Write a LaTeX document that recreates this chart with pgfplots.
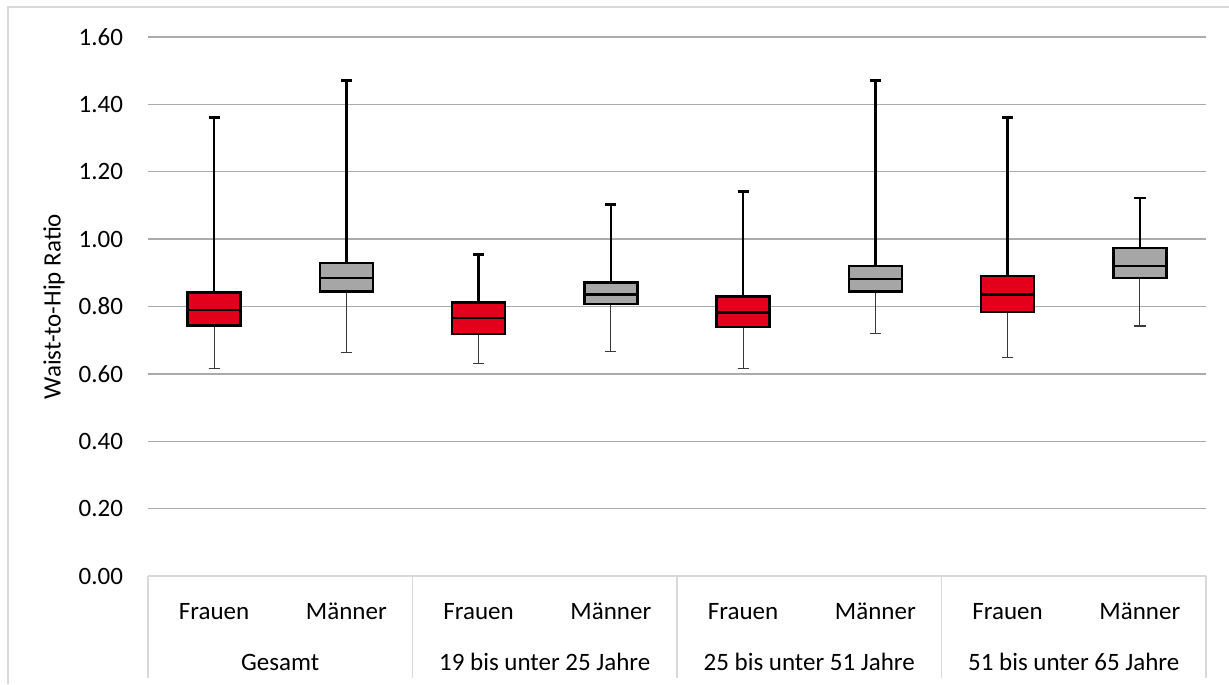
\documentclass[border=0pt]{standalone}
\usepackage{fontspec}
\setmainfont{Carlito}
\usepackage{pgfplots}
\pgfplotsset{compat=1.18}
\usepgfplotslibrary{statistics}

\definecolor{boxred}{HTML}{E2001A}
\definecolor{boxgray}{HTML}{A6A6A6}
\definecolor{gridcol}{HTML}{ABABAB}
\definecolor{sepcol}{HTML}{D9D9D9}
\definecolor{lowwhisk}{HTML}{3A3A3A}

\pgfplotsset{
  boxplot/draw direction=y,
  wbox/.style={
    boxplot prepared={#1},
    draw=black, line width=1.2pt,
    boxplot/box extend=0.4,
    boxplot/whisker extend=0.085,
    % thin lower whisker, thick upper whisker
    boxplot/draw/lower whisker/.code={%
      \draw[lowwhisk, line width=0.6pt]
        (boxplot box cs:\pgfplotsboxplotvalue{lower whisker},0.5)
        -- (boxplot box cs:\pgfplotsboxplotvalue{lower quartile},0.5);
      \draw[lowwhisk, line width=0.6pt]
        (boxplot whisker cs:\pgfplotsboxplotvalue{lower whisker},0)
        -- (boxplot whisker cs:\pgfplotsboxplotvalue{lower whisker},1);
    },
  },
}

\begin{document}
\begin{tikzpicture}[font=\fontsize{12.5pt}{15pt}\selectfont]
\useasboundingbox (0,0) rectangle (614.5pt,342pt);
% chart frame
\draw[sepcol, line width=0.75pt] (4pt,0) -- (4pt,338.5pt) -- (614.5pt,338.5pt);

\begin{axis}[
  at={(74pt,54pt)}, anchor=south west,
  scale only axis, width=529pt, height=269.5pt,
  xmin=-0.5, xmax=7.5, ymin=0, ymax=1.6,
  boxplot/draw direction=y,
  axis lines*=left,
  y axis line style={draw=none},
  x axis line style={sepcol, line width=0.7pt},
  ytick={0,0.2,0.4,0.6,0.8,1.0,1.2,1.4,1.6},
  ymajorgrids, grid style={gridcol, line width=0.7pt},
  major tick length=0pt,
  /pgf/number format/assume math mode=true,
  yticklabel style={/pgf/number format/.cd, fixed, fixed zerofill, precision=2, /tikz/.cd, xshift=-9pt},
  xtick={0,1,2,3,4,5,6,7},
  xticklabels={Frauen,Männer,Frauen,Männer,Frauen,Männer,Frauen,Männer},
  xticklabel style={anchor=base, yshift=-21.5pt},
  extra x ticks={-0.5,1.5,3.5,5.5,7.5},
  extra x tick labels={},
  extra x tick style={major tick length=51pt, tick align=outside,
    tick style={sepcol, line width=0.7pt}},
  ylabel={Waist-to-Hip Ratio},
  every axis y label/.style={at={(axis description cs:-0.0888,0.5)}, rotate=90, anchor=center},
  clip=false,
]
% Gesamt
\addplot[wbox={draw position=0, lower whisker=0.617, lower quartile=0.743, median=0.790, upper quartile=0.842, upper whisker=1.361}, fill=boxred] coordinates {};
\addplot[wbox={draw position=1, lower whisker=0.664, lower quartile=0.844, median=0.885, upper quartile=0.929, upper whisker=1.471}, fill=boxgray] coordinates {};
% 19 bis unter 25 Jahre
\addplot[wbox={draw position=2, lower whisker=0.631, lower quartile=0.718, median=0.766, upper quartile=0.812, upper whisker=0.954}, fill=boxred] coordinates {};
\addplot[wbox={draw position=3, lower whisker=0.666, lower quartile=0.807, median=0.836, upper quartile=0.871, upper whisker=1.103}, fill=boxgray] coordinates {};
% 25 bis unter 51 Jahre
\addplot[wbox={draw position=4, lower whisker=0.617, lower quartile=0.740, median=0.782, upper quartile=0.830, upper whisker=1.141}, fill=boxred] coordinates {};
\addplot[wbox={draw position=5, lower whisker=0.721, lower quartile=0.844, median=0.881, upper quartile=0.920, upper whisker=1.471}, fill=boxgray] coordinates {};
% 51 bis unter 65 Jahre
\addplot[wbox={draw position=6, lower whisker=0.649, lower quartile=0.784, median=0.836, upper quartile=0.891, upper whisker=1.361}, fill=boxred] coordinates {};
\addplot[wbox={draw position=7, lower whisker=0.742, lower quartile=0.885, median=0.921, upper quartile=0.974, upper whisker=1.122}, fill=boxgray] coordinates {};

% group labels
\node[anchor=base, yshift=-47pt] at (axis cs:0.5,0) {Gesamt};
\node[anchor=base, yshift=-47pt] at (axis cs:2.5,0) {19 bis unter 25 Jahre};
\node[anchor=base, yshift=-47pt] at (axis cs:4.5,0) {25 bis unter 51 Jahre};
\node[anchor=base, yshift=-47pt] at (axis cs:6.5,0) {51 bis unter 65 Jahre};
\end{axis}
\end{tikzpicture}
\end{document}
